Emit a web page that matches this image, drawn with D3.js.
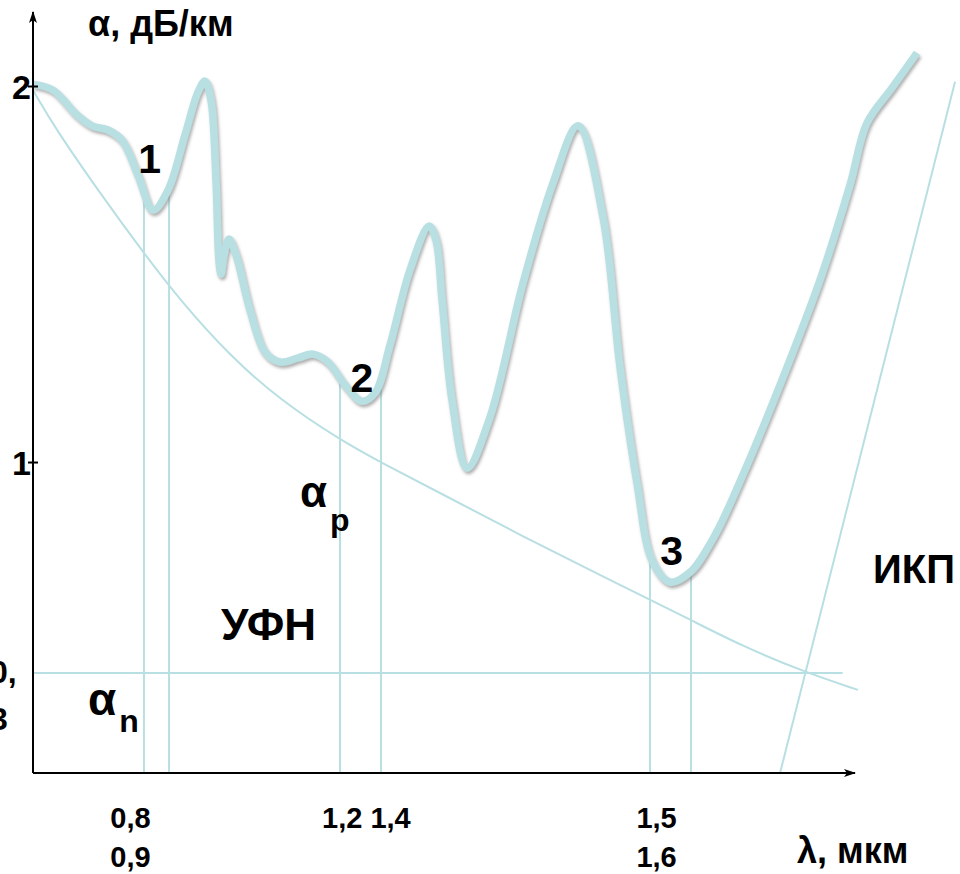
<!DOCTYPE html>
<html>
<head>
<meta charset="utf-8">
<script src="https://cdn.jsdelivr.net/npm/d3@7"></script>
<style>
  html, body { margin: 0; padding: 0; background: #fff; }
  svg { display: block; }
  text { font-family: "Liberation Sans", Arial, sans-serif; font-weight: bold; fill: #000; }
</style>
</head>
<body>
<svg id="chart" width="960" height="874"></svg>
<script>
// ---------- data ----------
// position along the wavelength axis (schematic units 0..100) and attenuation α, дБ/км
const lossU = [0, 2.43, 5.35, 7.18, 9.12, 10.83, 12.77, 14.60, 16.42, 18.49, 20.07, 20.92, 21.65, 22.26, 22.63, 22.87,
  23.24, 23.84, 24.70, 26.40, 28.22, 30.05, 32.24, 34.06, 35.89, 37.96, 40.02, 41.61, 43.43, 45.86, 48.18, 49.03,
  49.76, 50.97, 52.80, 55.60, 59.61, 63.26, 66.30, 69.34, 71.41, 73.48, 75.30, 77.49, 79.93, 82.97, 86.62, 90.88,
  95.74, 99.39, 101.46, 104.50, 107.54];
const lossA = [2.005, 1.989, 1.923, 1.894, 1.883, 1.856, 1.763, 1.670, 1.723, 1.870, 1.984, 2.013, 1.963, 1.750, 1.532, 1.500,
  1.551, 1.593, 1.551, 1.404, 1.293, 1.266, 1.277, 1.287, 1.266, 1.205, 1.162, 1.184, 1.311, 1.511, 1.628, 1.590,
  1.431, 1.165, 0.984, 1.120, 1.476, 1.742, 1.894, 1.652, 1.253, 0.944, 0.739, 0.681, 0.707, 0.806, 0.979, 1.205,
  1.484, 1.737, 1.902, 1.995, 2.088];

// Rayleigh scattering curve α_p
const rayU = [0, 2.68, 8.15, 13.63, 17.88, 23.97, 30.05, 37.35, 42.21, 50.73, 59.25, 68.98, 80.05, 86.01, 93.92, 100.36];
const rayA = [1.989, 1.888, 1.715, 1.551, 1.431, 1.282, 1.165, 1.059, 1.000, 0.904, 0.806, 0.699, 0.580, 0.513, 0.441, 0.394];

// transparency windows: vertical drop lines
const windowU = [13.50, 16.55, 37.35, 42.34, 75.06, 80.05];
const windowTopA = [1.72, 1.72, 1.215, 1.234, 0.766, 0.72];

// α_n level
const noiseLevel = 0.439;
const noiseEndU = 98.5;

// infrared absorption line (ИКП)
const ikpU = [90.88, 112.17];
const ikpA = [0.173, 2.011];

// axes
const axisBaseA = 0.173;
const axisTopA = 2.197;
const axisEndU = 100;
const yTicks = [1, 2];
const xTickU = [11.8, 40.5, 75.8];
const xTickLine1 = ["0,8", "1,2 1,4", "1,5"];
const xTickLine2 = ["0,9", "", "1,6"];

// window labels
const winLabels = ["1", "2", "3"];
const winLabelU = [14.2, 40.0, 77.7];
const winLabelA = [1.769, 1.186, 0.726];

// ---------- drawing ----------
const svg = d3.select("#chart");
const x = d3.scaleLinear().domain([0, 100]).range([33, 855]);
const y = d3.scaleLinear().domain([axisBaseA, 2]).range([773, 86]);

const light = "#b8dfe2";
const defs = svg.append("defs");
const f = defs.append("filter").attr("id", "shadow")
  .attr("x", "-10%").attr("y", "-10%").attr("width", "120%").attr("height", "120%");
f.append("feDropShadow").attr("dx", 1.5).attr("dy", 2.5).attr("stdDeviation", 1.8)
  .attr("flood-color", "#7a7a7a").attr("flood-opacity", 0.6);

defs.append("marker").attr("id", "arrow")
  .attr("viewBox", "0 -5 12 10").attr("refX", 11).attr("refY", 0)
  .attr("markerWidth", 12).attr("markerHeight", 10).attr("markerUnits", "userSpaceOnUse")
  .attr("orient", "auto")
  .append("path").attr("d", "M0,-4L12,0L0,4L3,0Z").attr("fill", "#000");

// thin lines
const thin = svg.append("g").attr("fill", "none").attr("stroke", light).attr("stroke-width", 2);
thin.append("path")
  .datum(rayU.map((u, i) => [u, rayA[i]]))
  .attr("d", d3.line().x(d => x(d[0])).y(d => y(d[1])).curve(d3.curveBasis));
thin.append("line")
  .attr("x1", x(0)).attr("x2", x(noiseEndU))
  .attr("y1", y(noiseLevel)).attr("y2", y(noiseLevel));
thin.append("line")
  .attr("x1", x(ikpU[0])).attr("x2", x(ikpU[1]))
  .attr("y1", y(ikpA[0])).attr("y2", y(ikpA[1]));
thin.selectAll("line.win").data(windowU).join("line").attr("class", "win")
  .attr("x1", d => x(d)).attr("x2", d => x(d))
  .attr("y1", (d, i) => y(windowTopA[i])).attr("y2", y(axisBaseA));

// main loss curve
svg.append("path")
  .datum(lossU.map((u, i) => [u, lossA[i]]))
  .attr("fill", "none").attr("stroke", light).attr("stroke-width", 7.5)
  .attr("stroke-linejoin", "round").attr("stroke-linecap", "butt")
  .attr("filter", "url(#shadow)")
  .attr("d", d3.line().x(d => x(d[0])).y(d => y(d[1])).curve(d3.curveCatmullRom.alpha(0.5)));

// axes lines with arrows
svg.append("line").attr("x1", x(0)).attr("x2", x(0))
  .attr("y1", y(axisBaseA)).attr("y2", y(axisTopA))
  .attr("stroke", "#000").attr("stroke-width", 2).attr("marker-end", "url(#arrow)");
svg.append("line").attr("x1", x(0)).attr("x2", x(axisEndU))
  .attr("y1", y(axisBaseA)).attr("y2", y(axisBaseA))
  .attr("stroke", "#000").attr("stroke-width", 2).attr("marker-end", "url(#arrow)");

// y axis ticks
const yAxis = svg.append("g").attr("transform", `translate(${x(0)},0)`)
  .call(d3.axisLeft(y).tickValues(yTicks).tickFormat(d3.format("d")).tickSize(5).tickPadding(-3));
yAxis.select(".domain").remove();
yAxis.selectAll(".tick line").attr("x1", 5).attr("x2", -5).attr("stroke", "#000").attr("stroke-width", 2);
yAxis.selectAll(".tick text").attr("font-size", 34).attr("font-family", "Liberation Sans, Arial, sans-serif")
  .attr("font-weight", "bold").attr("fill", "#000").attr("dy", "0.36em");

// x axis tick labels (two lines)
const xAxis = svg.append("g").attr("transform", `translate(0,${y(axisBaseA)})`)
  .call(d3.axisBottom(x).tickValues(xTickU).tickSize(0).tickFormat(""));
xAxis.select(".domain").remove();
xAxis.selectAll(".tick").each(function (d, i) {
  const t = d3.select(this).append("text")
    .attr("text-anchor", "middle").attr("font-size", 29)
    .attr("font-family", "Liberation Sans, Arial, sans-serif").attr("font-weight", "bold").attr("fill", "#000");
  t.append("tspan").attr("x", 0).attr("y", 55).text(xTickLine1[i]);
  if (xTickLine2[i]) t.append("tspan").attr("x", 0).attr("y", 94).text(xTickLine2[i]);
});

// axis titles
svg.append("text").attr("x", 88).attr("y", 36).attr("font-size", 36).text("α, дБ/км");
svg.append("text").attr("x", 797).attr("y", 863).attr("font-size", 36).text("λ, мкм");

// "0,3" label at α_n level (partly off-canvas, as in the original)
const lab03 = svg.append("text").attr("font-size", 32);
lab03.append("tspan").attr("x", -10).attr("y", 683).text("0,");
lab03.append("tspan").attr("x", -10).attr("y", 730).text("3");

// window labels
svg.selectAll("text.win").data(winLabels).join("text").attr("class", "win")
  .attr("x", (d, i) => x(winLabelU[i])).attr("y", (d, i) => y(winLabelA[i]))
  .attr("text-anchor", "middle").attr("font-size", 41).text(d => d);

// region labels
svg.append("text").attr("x", 221).attr("y", 640).attr("font-size", 44).text("УФН");
svg.append("text").attr("x", 873).attr("y", 583).attr("font-size", 40).text("ИКП");

const ap = svg.append("text").attr("x", 300).attr("y", 507);
ap.append("tspan").attr("font-size", 44).text("α");
ap.append("tspan").attr("font-size", 32).attr("dx", 3).attr("dy", 24).text("p");

const an = svg.append("text").attr("x", 88).attr("y", 715);
an.append("tspan").attr("font-size", 46).text("α");
an.append("tspan").attr("font-size", 32).attr("dx", 3).attr("dy", 17).text("n");
</script>
</body>
</html>
